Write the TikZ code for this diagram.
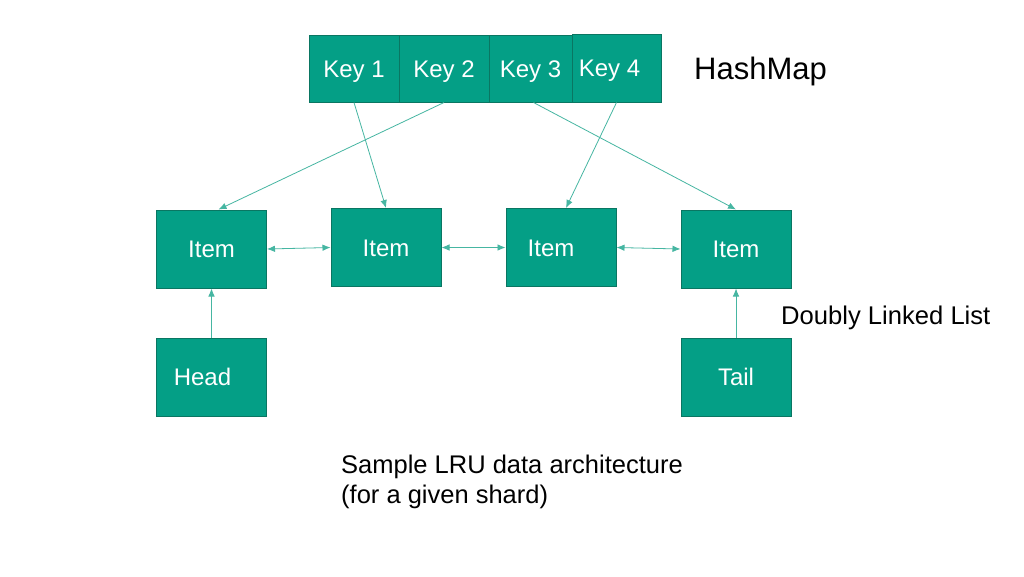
\documentclass[tikz,border=0pt]{standalone}
\usepackage{fontspec}
\setmainfont{Liberation Sans}
\usetikzlibrary{arrows.meta,calc}
\definecolor{lrufill}{RGB}{4,159,134}
\definecolor{lruedge}{RGB}{10,118,98}
\definecolor{lruline}{RGB}{70,182,162}
\begin{document}
\begin{tikzpicture}[x=1pt,y=-1pt,
		>={Latex[length=8pt,width=6.5pt]},
		box/.style={draw=lruedge, line width=1pt, fill=lrufill, text=white, inner sep=0pt, text height=17pt, text depth=0pt, font=\fontsize{24pt}{28pt}\selectfont},
		keybox/.style={box, minimum height=67pt},
		itembox/.style={box, minimum width=110pt, minimum height=78pt},
		link/.style={draw=lruline, line width=0.8pt},
		plain/.style={text=black, inner sep=0pt, align=left}]
		\fill[white] (0,0) rectangle (1024,576);
		\useasboundingbox (0,0) rectangle (1024,576);
		\node[keybox, minimum width=90pt] (k1) at (354,68.5) {Key 1};
		\node[keybox, minimum width=90pt] (k2) at (444,68.5) {Key 2};
		\node[keybox, minimum width=83pt] (k3) at (530.5,68.5) {Key 3};
		\node[keybox, minimum width=89pt, minimum height=68pt] (k4) at (616.5,68) {Key 4\kern14pt};
		\node[plain, anchor=west, font=\fontsize{31pt}{36pt}\selectfont] (hm) at (694,71) {HashMap};
		\node[itembox] (i1) at (211.5,249) {Item};
		\node[itembox] (i2) at (386,247.5) {Item};
		\node[itembox] (i3) at (561,247.5) {Item\kern20pt};
		\node[itembox] (i4) at (736,249) {Item};
		\node[itembox] (head) at (211.5,377) {Head\kern18pt};
		\node[itembox] (tail) at (736,377) {Tail};
		\node[plain, anchor=west, font=\fontsize{25.6pt}{30pt}\selectfont] (dll) at (781,318) {Doubly Linked List};
		\node[plain, anchor=north west, font=\fontsize{25.5pt}{30pt}\selectfont] (cap) at (341,455) {Sample LRU data architecture\\(for a given shard)};
		\draw[link, ->] (k1.south) -- (i2.north);
		\draw[link, ->] (k2.south) -- ($(i1.north)+(7,0)$);
		\draw[link, ->] ($(k3.south)+(3,0)$) -- (i4.north);
		\draw[link, ->] (k4.south) -- ($(i3.north)+(5,0)$);
		\draw[link, <->] (i1.east) -- (i2.west);
		\draw[link, <->] (i2.east) -- (i3.west);
		\draw[link, <->] (i3.east) -- (i4.west);
		\draw[link, ->] (head.north) -- (i1.south);
		\draw[link, ->] (tail.north) -- (i4.south);
	\end{tikzpicture}
\end{document}
